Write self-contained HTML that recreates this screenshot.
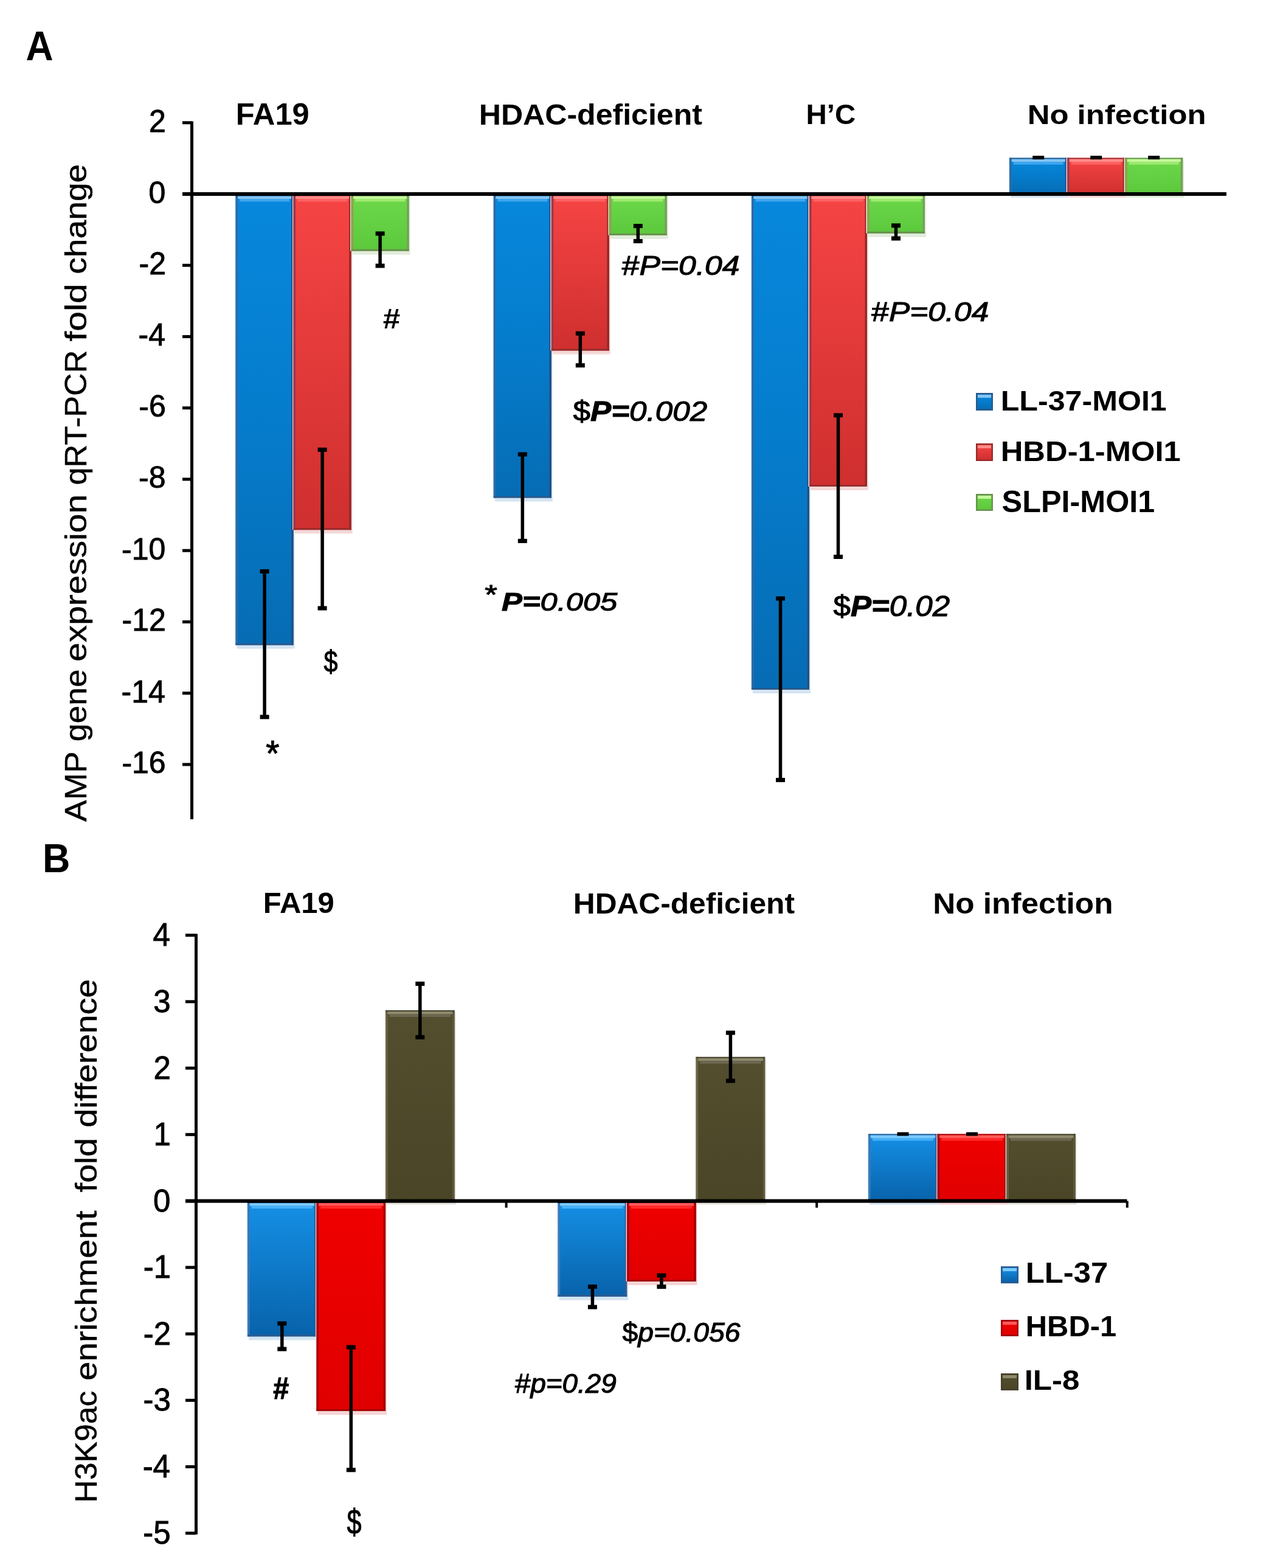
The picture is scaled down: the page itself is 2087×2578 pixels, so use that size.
<!DOCTYPE html>
<html><head><meta charset="utf-8"><title>Figure</title>
<style>html,body{margin:0;padding:0;background:#fff;width:2087px;height:2578px;overflow:hidden}svg{display:block}</style>
</head><body>
<svg width="2087" height="2578" viewBox="0 0 2087 2578" font-family="'Liberation Sans', Arial, sans-serif" fill="#000"><defs><linearGradient id="gAblue" x1="0" y1="0" x2="0" y2="1"><stop offset="0" stop-color="#0788dc"/><stop offset="0.5" stop-color="#057ccc"/><stop offset="1" stop-color="#066cb4"/></linearGradient><linearGradient id="gAred" x1="0" y1="0" x2="0" y2="1"><stop offset="0" stop-color="#f64444"/><stop offset="1" stop-color="#cf2f2f"/></linearGradient><linearGradient id="gAgreen" x1="0" y1="0" x2="0" y2="1"><stop offset="0" stop-color="#6cd84a"/><stop offset="1" stop-color="#5cc83c"/></linearGradient><linearGradient id="gBblue" x1="0" y1="0" x2="0" y2="1"><stop offset="0" stop-color="#1590e6"/><stop offset="1" stop-color="#0862aa"/></linearGradient><linearGradient id="gBred" x1="0" y1="0" x2="0" y2="1"><stop offset="0" stop-color="#f00000"/><stop offset="1" stop-color="#e00000"/></linearGradient><linearGradient id="gBolive" x1="0" y1="0" x2="0" y2="1"><stop offset="0" stop-color="#534e2e"/><stop offset="1" stop-color="#4a4526"/></linearGradient></defs><rect width="2087" height="2578" fill="#fff"/><g id="chartA"><rect x="389.60" y="322.00" width="95.00" height="744.60" fill="#d4e4f2"/><rect x="386.10" y="319.00" width="1.50" height="741.60" fill="#d6eaf8"/><rect x="387.60" y="319.00" width="95.00" height="741.60" fill="url(#gAblue)"/><rect x="387.60" y="319.00" width="3.50" height="741.60" fill="#2f6aa6"/><rect x="479.10" y="319.00" width="3.50" height="741.60" fill="#244f86"/><rect x="387.60" y="1057.60" width="95.00" height="3.00" fill="#2a5a8c"/><rect x="387.60" y="319.00" width="95.00" height="3.50" fill="#04284e"/><rect x="391.10" y="322.50" width="88.00" height="4.50" fill="#84c4f2"/><rect x="394.10" y="327.00" width="82.00" height="4.50" fill="#3ea6ee"/><rect x="484.60" y="322.00" width="95.00" height="555.20" fill="#f4d8d8"/><rect x="481.10" y="319.00" width="1.50" height="552.20" fill="#fbe0e0"/><rect x="482.60" y="319.00" width="95.00" height="552.20" fill="url(#gAred)"/><rect x="482.60" y="319.00" width="3.50" height="552.20" fill="#a03848"/><rect x="574.10" y="319.00" width="3.50" height="552.20" fill="#962828"/><rect x="482.60" y="868.20" width="95.00" height="3.00" fill="#9a2c2c"/><rect x="482.60" y="319.00" width="95.00" height="3.50" fill="#5a1010"/><rect x="486.10" y="322.50" width="88.00" height="4.50" fill="#ff8a8a"/><rect x="489.10" y="327.00" width="82.00" height="4.50" fill="#ff6262"/><rect x="579.60" y="322.00" width="95.00" height="96.70" fill="#e2ecdc"/><rect x="576.10" y="319.00" width="1.50" height="93.70" fill="#eef8e8"/><rect x="577.60" y="319.00" width="95.00" height="93.70" fill="url(#gAgreen)"/><rect x="577.60" y="319.00" width="3.50" height="93.70" fill="#90a050"/><rect x="669.10" y="319.00" width="3.50" height="93.70" fill="#78a05c"/><rect x="577.60" y="409.70" width="95.00" height="3.00" fill="#6a9050"/><rect x="577.60" y="319.00" width="95.00" height="3.50" fill="#1c4010"/><rect x="581.10" y="322.50" width="88.00" height="4.50" fill="#c4f89a"/><rect x="584.10" y="327.00" width="82.00" height="4.50" fill="#9eea70"/><rect x="813.80" y="322.00" width="95.00" height="502.50" fill="#d4e4f2"/><rect x="810.30" y="319.00" width="1.50" height="499.50" fill="#d6eaf8"/><rect x="811.80" y="319.00" width="95.00" height="499.50" fill="url(#gAblue)"/><rect x="811.80" y="319.00" width="3.50" height="499.50" fill="#2f6aa6"/><rect x="903.30" y="319.00" width="3.50" height="499.50" fill="#244f86"/><rect x="811.80" y="815.50" width="95.00" height="3.00" fill="#2a5a8c"/><rect x="811.80" y="319.00" width="95.00" height="3.50" fill="#04284e"/><rect x="815.30" y="322.50" width="88.00" height="4.50" fill="#84c4f2"/><rect x="818.30" y="327.00" width="82.00" height="4.50" fill="#3ea6ee"/><rect x="908.80" y="322.00" width="95.00" height="260.50" fill="#f4d8d8"/><rect x="905.30" y="319.00" width="1.50" height="257.50" fill="#fbe0e0"/><rect x="906.80" y="319.00" width="95.00" height="257.50" fill="url(#gAred)"/><rect x="906.80" y="319.00" width="3.50" height="257.50" fill="#a03848"/><rect x="998.30" y="319.00" width="3.50" height="257.50" fill="#962828"/><rect x="906.80" y="573.50" width="95.00" height="3.00" fill="#9a2c2c"/><rect x="906.80" y="319.00" width="95.00" height="3.50" fill="#5a1010"/><rect x="910.30" y="322.50" width="88.00" height="4.50" fill="#ff8a8a"/><rect x="913.30" y="327.00" width="82.00" height="4.50" fill="#ff6262"/><rect x="1003.80" y="322.00" width="95.00" height="70.80" fill="#e2ecdc"/><rect x="1000.30" y="319.00" width="1.50" height="67.80" fill="#eef8e8"/><rect x="1001.80" y="319.00" width="95.00" height="67.80" fill="url(#gAgreen)"/><rect x="1001.80" y="319.00" width="3.50" height="67.80" fill="#90a050"/><rect x="1093.30" y="319.00" width="3.50" height="67.80" fill="#78a05c"/><rect x="1001.80" y="383.80" width="95.00" height="3.00" fill="#6a9050"/><rect x="1001.80" y="319.00" width="95.00" height="3.50" fill="#1c4010"/><rect x="1005.30" y="322.50" width="88.00" height="4.50" fill="#c4f89a"/><rect x="1008.30" y="327.00" width="82.00" height="4.50" fill="#9eea70"/><rect x="1238.00" y="322.00" width="95.00" height="818.00" fill="#d4e4f2"/><rect x="1234.50" y="319.00" width="1.50" height="815.00" fill="#d6eaf8"/><rect x="1236.00" y="319.00" width="95.00" height="815.00" fill="url(#gAblue)"/><rect x="1236.00" y="319.00" width="3.50" height="815.00" fill="#2f6aa6"/><rect x="1327.50" y="319.00" width="3.50" height="815.00" fill="#244f86"/><rect x="1236.00" y="1131.00" width="95.00" height="3.00" fill="#2a5a8c"/><rect x="1236.00" y="319.00" width="95.00" height="3.50" fill="#04284e"/><rect x="1239.50" y="322.50" width="88.00" height="4.50" fill="#84c4f2"/><rect x="1242.50" y="327.00" width="82.00" height="4.50" fill="#3ea6ee"/><rect x="1333.00" y="322.00" width="95.00" height="484.00" fill="#f4d8d8"/><rect x="1329.50" y="319.00" width="1.50" height="481.00" fill="#fbe0e0"/><rect x="1331.00" y="319.00" width="95.00" height="481.00" fill="url(#gAred)"/><rect x="1331.00" y="319.00" width="3.50" height="481.00" fill="#a03848"/><rect x="1422.50" y="319.00" width="3.50" height="481.00" fill="#962828"/><rect x="1331.00" y="797.00" width="95.00" height="3.00" fill="#9a2c2c"/><rect x="1331.00" y="319.00" width="95.00" height="3.50" fill="#5a1010"/><rect x="1334.50" y="322.50" width="88.00" height="4.50" fill="#ff8a8a"/><rect x="1337.50" y="327.00" width="82.00" height="4.50" fill="#ff6262"/><rect x="1428.00" y="322.00" width="95.00" height="67.70" fill="#e2ecdc"/><rect x="1424.50" y="319.00" width="1.50" height="64.70" fill="#eef8e8"/><rect x="1426.00" y="319.00" width="95.00" height="64.70" fill="url(#gAgreen)"/><rect x="1426.00" y="319.00" width="3.50" height="64.70" fill="#90a050"/><rect x="1517.50" y="319.00" width="3.50" height="64.70" fill="#78a05c"/><rect x="1426.00" y="380.70" width="95.00" height="3.00" fill="#6a9050"/><rect x="1426.00" y="319.00" width="95.00" height="3.50" fill="#1c4010"/><rect x="1429.50" y="322.50" width="88.00" height="4.50" fill="#c4f89a"/><rect x="1432.50" y="327.00" width="82.00" height="4.50" fill="#9eea70"/><rect x="1662.20" y="262.60" width="95.00" height="62.40" fill="#d4e4f2"/><rect x="1658.70" y="259.60" width="1.50" height="59.40" fill="#d6eaf8"/><rect x="1660.20" y="259.60" width="95.00" height="59.40" fill="url(#gAblue)"/><rect x="1660.20" y="259.60" width="3.50" height="59.40" fill="#2f6aa6"/><rect x="1751.70" y="259.60" width="3.50" height="59.40" fill="#244f86"/><rect x="1660.20" y="316.00" width="95.00" height="3.00" fill="#2a5a8c"/><rect x="1660.20" y="259.60" width="95.00" height="2.00" fill="#2a5a8c"/><rect x="1663.70" y="261.60" width="88.00" height="4.50" fill="#84c4f2"/><rect x="1666.70" y="266.10" width="82.00" height="4.50" fill="#3ea6ee"/><rect x="1757.20" y="262.60" width="95.00" height="62.40" fill="#f4d8d8"/><rect x="1753.70" y="259.60" width="1.50" height="59.40" fill="#fbe0e0"/><rect x="1755.20" y="259.60" width="95.00" height="59.40" fill="url(#gAred)"/><rect x="1755.20" y="259.60" width="3.50" height="59.40" fill="#a03848"/><rect x="1846.70" y="259.60" width="3.50" height="59.40" fill="#962828"/><rect x="1755.20" y="316.00" width="95.00" height="3.00" fill="#9a2c2c"/><rect x="1755.20" y="259.60" width="95.00" height="2.00" fill="#9a2c2c"/><rect x="1758.70" y="261.60" width="88.00" height="4.50" fill="#ff8a8a"/><rect x="1761.70" y="266.10" width="82.00" height="4.50" fill="#ff6262"/><rect x="1852.20" y="262.60" width="95.00" height="62.40" fill="#e2ecdc"/><rect x="1848.70" y="259.60" width="1.50" height="59.40" fill="#eef8e8"/><rect x="1850.20" y="259.60" width="95.00" height="59.40" fill="url(#gAgreen)"/><rect x="1850.20" y="259.60" width="3.50" height="59.40" fill="#90a050"/><rect x="1941.70" y="259.60" width="3.50" height="59.40" fill="#78a05c"/><rect x="1850.20" y="316.00" width="95.00" height="3.00" fill="#6a9050"/><rect x="1850.20" y="259.60" width="95.00" height="2.00" fill="#6a9050"/><rect x="1853.70" y="261.60" width="88.00" height="4.50" fill="#c4f89a"/><rect x="1856.70" y="266.10" width="82.00" height="4.50" fill="#9eea70"/><rect x="313.00" y="199.50" width="5.00" height="1147.50" fill="#000"/><rect x="300.00" y="199.26" width="15.50" height="5.00" fill="#000"/><rect x="300.00" y="316.50" width="15.50" height="5.00" fill="#000"/><rect x="300.00" y="433.74" width="15.50" height="5.00" fill="#000"/><rect x="300.00" y="550.98" width="15.50" height="5.00" fill="#000"/><rect x="300.00" y="668.22" width="15.50" height="5.00" fill="#000"/><rect x="300.00" y="785.46" width="15.50" height="5.00" fill="#000"/><rect x="300.00" y="902.70" width="15.50" height="5.00" fill="#000"/><rect x="300.00" y="1019.94" width="15.50" height="5.00" fill="#000"/><rect x="300.00" y="1137.18" width="15.50" height="5.00" fill="#000"/><rect x="300.00" y="1254.42" width="15.50" height="5.00" fill="#000"/><rect x="300.00" y="316.00" width="1717.00" height="6.00" fill="#000"/><rect x="432.35" y="939.40" width="5.50" height="239.40" fill="#000"/><rect x="427.60" y="935.90" width="15.00" height="7.00" fill="#000"/><rect x="427.60" y="1175.30" width="15.00" height="7.00" fill="#000"/><rect x="527.35" y="739.40" width="5.50" height="260.60" fill="#000"/><rect x="522.60" y="735.90" width="15.00" height="7.00" fill="#000"/><rect x="522.60" y="996.50" width="15.00" height="7.00" fill="#000"/><rect x="622.35" y="384.00" width="5.50" height="53.00" fill="#000"/><rect x="617.60" y="380.50" width="15.00" height="7.00" fill="#000"/><rect x="617.60" y="433.50" width="15.00" height="7.00" fill="#000"/><rect x="856.55" y="747.00" width="5.50" height="142.40" fill="#000"/><rect x="851.80" y="743.50" width="15.00" height="7.00" fill="#000"/><rect x="851.80" y="885.90" width="15.00" height="7.00" fill="#000"/><rect x="951.55" y="548.20" width="5.50" height="52.50" fill="#000"/><rect x="946.80" y="544.70" width="15.00" height="7.00" fill="#000"/><rect x="946.80" y="597.20" width="15.00" height="7.00" fill="#000"/><rect x="1046.55" y="371.60" width="5.50" height="24.90" fill="#000"/><rect x="1041.80" y="368.10" width="15.00" height="7.00" fill="#000"/><rect x="1041.80" y="393.00" width="15.00" height="7.00" fill="#000"/><rect x="1280.75" y="984.00" width="5.50" height="298.40" fill="#000"/><rect x="1276.00" y="980.50" width="15.00" height="7.00" fill="#000"/><rect x="1276.00" y="1278.90" width="15.00" height="7.00" fill="#000"/><rect x="1375.75" y="682.80" width="5.50" height="232.70" fill="#000"/><rect x="1371.00" y="679.30" width="15.00" height="7.00" fill="#000"/><rect x="1371.00" y="912.00" width="15.00" height="7.00" fill="#000"/><rect x="1470.75" y="370.80" width="5.50" height="21.20" fill="#000"/><rect x="1466.00" y="367.30" width="15.00" height="7.00" fill="#000"/><rect x="1466.00" y="388.50" width="15.00" height="7.00" fill="#000"/><rect x="1698.20" y="256.10" width="19.00" height="6.00" fill="#000"/><rect x="1793.20" y="256.10" width="19.00" height="6.00" fill="#000"/><rect x="1888.20" y="256.10" width="19.00" height="6.00" fill="#000"/></g><rect x="409.05" y="1977.60" width="113.50" height="225.70" fill="#d4e4f2"/><rect x="405.55" y="1974.60" width="1.50" height="222.70" fill="#d6eaf8"/><rect x="407.05" y="1974.60" width="113.50" height="222.70" fill="url(#gBblue)"/><rect x="407.05" y="1974.60" width="3.50" height="222.70" fill="#3a78b8"/><rect x="517.05" y="1974.60" width="3.50" height="222.70" fill="#345c94"/><rect x="407.05" y="2194.30" width="113.50" height="3.00" fill="#2a5a90"/><rect x="407.05" y="1974.60" width="113.50" height="3.50" fill="#04284e"/><rect x="410.55" y="1978.10" width="106.50" height="4.50" fill="#7ccaff"/><rect x="413.55" y="1982.60" width="100.50" height="4.50" fill="#48b0f8"/><rect x="522.55" y="1977.60" width="113.50" height="348.40" fill="#f6d4d4"/><rect x="519.05" y="1974.60" width="1.50" height="345.40" fill="#fbe0e0"/><rect x="520.55" y="1974.60" width="113.50" height="345.40" fill="url(#gBred)"/><rect x="520.55" y="1974.60" width="3.50" height="345.40" fill="#a80010"/><rect x="630.55" y="1974.60" width="3.50" height="345.40" fill="#a00000"/><rect x="520.55" y="2317.00" width="113.50" height="3.00" fill="#a00808"/><rect x="520.55" y="1974.60" width="113.50" height="3.50" fill="#500000"/><rect x="524.05" y="1978.10" width="106.50" height="4.50" fill="#ff5a5a"/><rect x="527.05" y="1982.60" width="100.50" height="4.50" fill="#ff2a2a"/><rect x="636.05" y="1664.00" width="113.50" height="316.60" fill="#e6e4dc"/><rect x="632.55" y="1661.00" width="1.50" height="313.60" fill="#f0efe8"/><rect x="634.05" y="1661.00" width="113.50" height="313.60" fill="url(#gBolive)"/><rect x="634.05" y="1661.00" width="3.50" height="313.60" fill="#6a6446"/><rect x="744.05" y="1661.00" width="3.50" height="313.60" fill="#5e5a40"/><rect x="634.05" y="1971.60" width="113.50" height="3.00" fill="#45402a"/><rect x="634.05" y="1661.00" width="113.50" height="2.00" fill="#45402a"/><rect x="637.55" y="1663.00" width="106.50" height="4.50" fill="#8e8a6e"/><rect x="640.55" y="1667.50" width="100.50" height="4.50" fill="#6c6750"/><rect x="919.65" y="1977.60" width="113.50" height="160.10" fill="#d4e4f2"/><rect x="916.15" y="1974.60" width="1.50" height="157.10" fill="#d6eaf8"/><rect x="917.65" y="1974.60" width="113.50" height="157.10" fill="url(#gBblue)"/><rect x="917.65" y="1974.60" width="3.50" height="157.10" fill="#3a78b8"/><rect x="1027.65" y="1974.60" width="3.50" height="157.10" fill="#345c94"/><rect x="917.65" y="2128.70" width="113.50" height="3.00" fill="#2a5a90"/><rect x="917.65" y="1974.60" width="113.50" height="3.50" fill="#04284e"/><rect x="921.15" y="1978.10" width="106.50" height="4.50" fill="#7ccaff"/><rect x="924.15" y="1982.60" width="100.50" height="4.50" fill="#48b0f8"/><rect x="1033.15" y="1977.60" width="113.50" height="135.30" fill="#f6d4d4"/><rect x="1029.65" y="1974.60" width="1.50" height="132.30" fill="#fbe0e0"/><rect x="1031.15" y="1974.60" width="113.50" height="132.30" fill="url(#gBred)"/><rect x="1031.15" y="1974.60" width="3.50" height="132.30" fill="#a80010"/><rect x="1141.15" y="1974.60" width="3.50" height="132.30" fill="#a00000"/><rect x="1031.15" y="2103.90" width="113.50" height="3.00" fill="#a00808"/><rect x="1031.15" y="1974.60" width="113.50" height="3.50" fill="#500000"/><rect x="1034.65" y="1978.10" width="106.50" height="4.50" fill="#ff5a5a"/><rect x="1037.65" y="1982.60" width="100.50" height="4.50" fill="#ff2a2a"/><rect x="1146.65" y="1740.80" width="113.50" height="239.80" fill="#e6e4dc"/><rect x="1143.15" y="1737.80" width="1.50" height="236.80" fill="#f0efe8"/><rect x="1144.65" y="1737.80" width="113.50" height="236.80" fill="url(#gBolive)"/><rect x="1144.65" y="1737.80" width="3.50" height="236.80" fill="#6a6446"/><rect x="1254.65" y="1737.80" width="3.50" height="236.80" fill="#5e5a40"/><rect x="1144.65" y="1971.60" width="113.50" height="3.00" fill="#45402a"/><rect x="1144.65" y="1737.80" width="113.50" height="2.00" fill="#45402a"/><rect x="1148.15" y="1739.80" width="106.50" height="4.50" fill="#8e8a6e"/><rect x="1151.15" y="1744.30" width="100.50" height="4.50" fill="#6c6750"/><rect x="1430.25" y="1867.50" width="113.50" height="113.10" fill="#d4e4f2"/><rect x="1426.75" y="1864.50" width="1.50" height="110.10" fill="#d6eaf8"/><rect x="1428.25" y="1864.50" width="113.50" height="110.10" fill="url(#gBblue)"/><rect x="1428.25" y="1864.50" width="3.50" height="110.10" fill="#3a78b8"/><rect x="1538.25" y="1864.50" width="3.50" height="110.10" fill="#345c94"/><rect x="1428.25" y="1971.60" width="113.50" height="3.00" fill="#2a5a90"/><rect x="1428.25" y="1864.50" width="113.50" height="2.00" fill="#2a5a90"/><rect x="1431.75" y="1866.50" width="106.50" height="4.50" fill="#7ccaff"/><rect x="1434.75" y="1871.00" width="100.50" height="4.50" fill="#48b0f8"/><rect x="1543.75" y="1867.50" width="113.50" height="113.10" fill="#f6d4d4"/><rect x="1540.25" y="1864.50" width="1.50" height="110.10" fill="#fbe0e0"/><rect x="1541.75" y="1864.50" width="113.50" height="110.10" fill="url(#gBred)"/><rect x="1541.75" y="1864.50" width="3.50" height="110.10" fill="#a80010"/><rect x="1651.75" y="1864.50" width="3.50" height="110.10" fill="#a00000"/><rect x="1541.75" y="1971.60" width="113.50" height="3.00" fill="#a00808"/><rect x="1541.75" y="1864.50" width="113.50" height="2.00" fill="#a00808"/><rect x="1545.25" y="1866.50" width="106.50" height="4.50" fill="#ff5a5a"/><rect x="1548.25" y="1871.00" width="100.50" height="4.50" fill="#ff2a2a"/><rect x="1657.25" y="1867.50" width="113.50" height="113.10" fill="#e6e4dc"/><rect x="1653.75" y="1864.50" width="1.50" height="110.10" fill="#f0efe8"/><rect x="1655.25" y="1864.50" width="113.50" height="110.10" fill="url(#gBolive)"/><rect x="1655.25" y="1864.50" width="3.50" height="110.10" fill="#6a6446"/><rect x="1765.25" y="1864.50" width="3.50" height="110.10" fill="#5e5a40"/><rect x="1655.25" y="1971.60" width="113.50" height="3.00" fill="#45402a"/><rect x="1655.25" y="1864.50" width="113.50" height="2.00" fill="#45402a"/><rect x="1658.75" y="1866.50" width="106.50" height="4.50" fill="#8e8a6e"/><rect x="1661.75" y="1871.00" width="100.50" height="4.50" fill="#6c6750"/><rect x="320.00" y="1535.50" width="5.00" height="987.20" fill="#000"/><rect x="305.00" y="1535.14" width="17.50" height="5.00" fill="#000"/><rect x="305.00" y="1644.38" width="17.50" height="5.00" fill="#000"/><rect x="305.00" y="1753.62" width="17.50" height="5.00" fill="#000"/><rect x="305.00" y="1862.86" width="17.50" height="5.00" fill="#000"/><rect x="305.00" y="1972.10" width="17.50" height="5.00" fill="#000"/><rect x="305.00" y="2081.34" width="17.50" height="5.00" fill="#000"/><rect x="305.00" y="2190.58" width="17.50" height="5.00" fill="#000"/><rect x="305.00" y="2299.82" width="17.50" height="5.00" fill="#000"/><rect x="305.00" y="2409.06" width="17.50" height="5.00" fill="#000"/><rect x="305.00" y="2518.30" width="17.50" height="5.00" fill="#000"/><rect x="305.00" y="1971.60" width="1548.50" height="6.00" fill="#000"/><rect x="830.60" y="1974.60" width="4.00" height="11.00" fill="#000"/><rect x="1341.20" y="1974.60" width="4.00" height="11.00" fill="#000"/><rect x="1851.80" y="1974.60" width="4.00" height="11.00" fill="#000"/><rect x="461.05" y="2176.00" width="5.50" height="42.00" fill="#000"/><rect x="456.30" y="2172.50" width="15.00" height="7.00" fill="#000"/><rect x="456.30" y="2214.50" width="15.00" height="7.00" fill="#000"/><rect x="574.55" y="2215.00" width="5.50" height="201.80" fill="#000"/><rect x="569.80" y="2211.50" width="15.00" height="7.00" fill="#000"/><rect x="569.80" y="2413.30" width="15.00" height="7.00" fill="#000"/><rect x="688.05" y="1617.40" width="5.50" height="87.90" fill="#000"/><rect x="683.30" y="1613.90" width="15.00" height="7.00" fill="#000"/><rect x="683.30" y="1701.80" width="15.00" height="7.00" fill="#000"/><rect x="971.65" y="2115.50" width="5.50" height="33.50" fill="#000"/><rect x="966.90" y="2112.00" width="15.00" height="7.00" fill="#000"/><rect x="966.90" y="2145.50" width="15.00" height="7.00" fill="#000"/><rect x="1085.15" y="2097.00" width="5.50" height="18.50" fill="#000"/><rect x="1080.40" y="2093.50" width="15.00" height="7.00" fill="#000"/><rect x="1080.40" y="2112.00" width="15.00" height="7.00" fill="#000"/><rect x="1198.65" y="1698.00" width="5.50" height="79.00" fill="#000"/><rect x="1193.90" y="1694.50" width="15.00" height="7.00" fill="#000"/><rect x="1193.90" y="1773.50" width="15.00" height="7.00" fill="#000"/><rect x="1475.50" y="1861.50" width="19.00" height="6.00" fill="#000"/><rect x="1589.00" y="1861.50" width="19.00" height="6.00" fill="#000"/><rect x="1605.00" y="646.00" width="28.00" height="29.00" fill="#2a5a8c"/><rect x="1607.50" y="648.50" width="23.00" height="24.00" fill="url(#gAblue)"/><rect x="1608.00" y="649.00" width="22.00" height="5.00" fill="#84c4f2"/><rect x="1605.00" y="729.00" width="28.00" height="29.00" fill="#9a2c2c"/><rect x="1607.50" y="731.50" width="23.00" height="24.00" fill="url(#gAred)"/><rect x="1608.00" y="732.00" width="22.00" height="5.00" fill="#ff8a8a"/><rect x="1605.00" y="812.00" width="28.00" height="28.00" fill="#6a9050"/><rect x="1607.50" y="814.50" width="23.00" height="23.00" fill="url(#gAgreen)"/><rect x="1608.00" y="815.00" width="22.00" height="5.00" fill="#c4f89a"/><rect x="1646.00" y="2082.00" width="29.00" height="28.00" fill="#2a5a90"/><rect x="1648.50" y="2084.50" width="24.00" height="23.00" fill="url(#gBblue)"/><rect x="1649.00" y="2085.00" width="23.00" height="5.00" fill="#7ccaff"/><rect x="1646.00" y="2170.00" width="29.00" height="27.00" fill="#a00808"/><rect x="1648.50" y="2172.50" width="24.00" height="22.00" fill="url(#gBred)"/><rect x="1649.00" y="2173.00" width="23.00" height="5.00" fill="#ff5a5a"/><rect x="1646.00" y="2258.00" width="29.00" height="28.00" fill="#45402a"/><rect x="1648.50" y="2260.50" width="24.00" height="23.00" fill="url(#gBolive)"/><rect x="1649.00" y="2261.00" width="23.00" height="5.00" fill="#8e8a6e"/><text transform="translate(42.44 98.50) scale(0.9039 1)" font-size="69.09"><tspan font-weight="bold" font-style="normal">A</tspan></text><text transform="translate(69.91 1433.50) scale(0.9498 1)" font-size="66.18"><tspan font-weight="bold" font-style="normal">B</tspan></text><text transform="translate(387.71 204.51) scale(1.0240 1)" font-size="49.47"><tspan font-weight="bold" font-style="normal">FA19</tspan></text><text transform="translate(787.74 204.52) scale(1.0518 1)" font-size="47.62"><tspan font-weight="bold" font-style="normal">HDAC-deficient</tspan></text><text transform="translate(1325.41 203.53) scale(1.0194 1)" font-size="46.64"><tspan font-weight="bold" font-style="normal">H’C</tspan></text><text transform="translate(1689.69 203.55) scale(1.1328 1)" font-size="44.90"><tspan font-weight="bold" font-style="normal">No infection</tspan></text><text transform="translate(141.50 1351.00) rotate(-90) scale(1.0580 1)" font-size="50.50" font-weight="normal" stroke="#000" stroke-width="0.4">AMP</text><text transform="translate(141.50 1219.14) rotate(-90) scale(1.0595 1)" font-size="50.50" font-weight="normal" stroke="#000" stroke-width="0.4">gene</text><text transform="translate(141.50 1087.92) rotate(-90) scale(1.1262 1)" font-size="50.50" font-weight="normal" stroke="#000" stroke-width="0.4">expression</text><text transform="translate(141.50 797.58) rotate(-90) scale(1.0316 1)" font-size="50.50" font-weight="normal" stroke="#000" stroke-width="0.4">qRT-PCR</text><text transform="translate(141.50 561.24) rotate(-90) scale(1.1675 1)" font-size="50.50" font-weight="normal" stroke="#000" stroke-width="0.4">fold</text><text transform="translate(141.50 450.85) rotate(-90) scale(1.0939 1)" font-size="50.50" font-weight="normal" stroke="#000" stroke-width="0.4">change</text><text transform="translate(245.12 216.76) scale(0.9824 1)" font-size="50.90" stroke="#000" stroke-width="0.9"><tspan font-weight="normal" font-style="normal">2</tspan></text><text transform="translate(244.62 333.50) scale(0.9965 1)" font-size="50.18" stroke="#000" stroke-width="0.9"><tspan font-weight="normal" font-style="normal">0</tspan></text><text transform="translate(228.50 451.24) scale(0.9824 1)" font-size="50.90" stroke="#000" stroke-width="0.9"><tspan font-weight="normal" font-style="normal">-2</tspan></text><text transform="translate(227.50 568.48) scale(0.9683 1)" font-size="51.64" stroke="#000" stroke-width="0.9"><tspan font-weight="normal" font-style="normal">-4</tspan></text><text transform="translate(228.25 685.22) scale(0.9965 1)" font-size="50.18" stroke="#000" stroke-width="0.9"><tspan font-weight="normal" font-style="normal">-6</tspan></text><text transform="translate(228.12 802.46) scale(0.9965 1)" font-size="50.18" stroke="#000" stroke-width="0.9"><tspan font-weight="normal" font-style="normal">-8</tspan></text><text transform="translate(200.12 919.70) scale(0.9965 1)" font-size="50.18" stroke="#000" stroke-width="0.9"><tspan font-weight="normal" font-style="normal">-10</tspan></text><text transform="translate(200.62 1037.44) scale(0.9824 1)" font-size="50.90" stroke="#000" stroke-width="0.9"><tspan font-weight="normal" font-style="normal">-12</tspan></text><text transform="translate(199.62 1154.68) scale(0.9683 1)" font-size="51.64" stroke="#000" stroke-width="0.9"><tspan font-weight="normal" font-style="normal">-14</tspan></text><text transform="translate(200.38 1271.42) scale(0.9965 1)" font-size="50.18" stroke="#000" stroke-width="0.9"><tspan font-weight="normal" font-style="normal">-16</tspan></text><text transform="translate(629.73 540.00) scale(1.1049 1)" font-size="46.32"><tspan font-weight="bold" font-style="normal">#</tspan></text><text transform="translate(532.59 1104.55) scale(0.8392 1)" font-size="49.23" stroke="#000" stroke-width="1.1"><tspan font-weight="normal" font-style="normal">$</tspan></text><text transform="translate(437.15 1259.27) scale(0.9722 1)" font-size="58.57" stroke="#000" stroke-width="1.1"><tspan font-weight="normal" font-style="normal">*</tspan></text><text transform="translate(1022.87 451.55) scale(1.1397 1)" font-size="45.23" stroke="#000" stroke-width="1.1"><tspan font-weight="normal" font-style="normal">#</tspan><tspan font-weight="normal" font-style="italic">P=0.04</tspan></text><text transform="translate(942.49 691.73) scale(1.0953 1)" font-size="46.77" stroke="#000" stroke-width="1.1"><tspan font-weight="normal" font-style="normal">$</tspan><tspan font-weight="bold" font-style="italic">P=</tspan><tspan font-weight="normal" font-style="italic">0.002</tspan></text><text transform="translate(797.21 993.45) scale(1.1918 1)" font-size="44.29" stroke="#000" stroke-width="1.1"><tspan font-weight="normal" font-style="normal">*</tspan></text><text transform="translate(825.11 1003.57) scale(1.1753 1)" font-size="43.11" stroke="#000" stroke-width="1.1"><tspan font-weight="bold" font-style="italic">P=</tspan><tspan font-weight="normal" font-style="italic">0.005</tspan></text><text transform="translate(1433.37 528.05) scale(1.1367 1)" font-size="45.23" stroke="#000" stroke-width="1.1"><tspan font-weight="normal" font-style="normal">#</tspan><tspan font-weight="normal" font-style="italic">P=0.04</tspan></text><text transform="translate(1370.49 1012.68) scale(1.0778 1)" font-size="47.38" stroke="#000" stroke-width="1.1"><tspan font-weight="normal" font-style="normal">$</tspan><tspan font-weight="bold" font-style="italic">P=</tspan><tspan font-weight="normal" font-style="italic">0.02</tspan></text><text transform="translate(1645.74 674.93) scale(1.0954 1)" font-size="45.77"><tspan font-weight="bold" font-style="normal">LL-37-MOI1</tspan></text><text transform="translate(1645.70 758.04) scale(1.1050 1)" font-size="45.94"><tspan font-weight="bold" font-style="normal">HBD-1-MOI1</tspan></text><text transform="translate(1647.62 842.00) scale(1.0030 1)" font-size="50.18"><tspan font-weight="bold" font-style="normal">SLPI-MOI1</tspan></text><text transform="translate(432.82 1501.01) scale(1.0030 1)" font-size="48.76"><tspan font-weight="bold" font-style="normal">FA19</tspan></text><text transform="translate(942.77 1502.02) scale(1.0284 1)" font-size="48.30"><tspan font-weight="bold" font-style="normal">HDAC-deficient</tspan></text><text transform="translate(1534.17 1501.52) scale(1.0774 1)" font-size="47.62"><tspan font-weight="bold" font-style="normal">No infection</tspan></text><text transform="translate(158.80 2470.64) rotate(-90) scale(1.0238 1)" font-size="50.50" font-weight="normal" stroke="#000" stroke-width="0.4">H3K9ac</text><text transform="translate(158.80 2269.90) rotate(-90) scale(1.1194 1)" font-size="50.50" font-weight="normal" stroke="#000" stroke-width="0.4">enrichment</text><text transform="translate(158.80 1960.19) rotate(-90) scale(1.0965 1)" font-size="50.50" font-weight="normal" stroke="#000" stroke-width="0.4">fold</text><text transform="translate(158.80 1853.73) rotate(-90) scale(1.1055 1)" font-size="50.50" font-weight="normal" stroke="#000" stroke-width="0.4">difference</text><text transform="translate(251.60 1555.14) scale(0.9476 1)" font-size="53.82" stroke="#000" stroke-width="0.9"><tspan font-weight="normal" font-style="normal">4</tspan></text><text transform="translate(252.36 1663.86) scale(0.9752 1)" font-size="52.30" stroke="#000" stroke-width="0.9"><tspan font-weight="normal" font-style="normal">3</tspan></text><text transform="translate(252.62 1773.62) scale(0.9614 1)" font-size="53.05" stroke="#000" stroke-width="0.9"><tspan font-weight="normal" font-style="normal">2</tspan></text><text transform="translate(252.62 1882.86) scale(0.9476 1)" font-size="53.82" stroke="#000" stroke-width="0.9"><tspan font-weight="normal" font-style="normal">1</tspan></text><text transform="translate(252.11 1991.58) scale(0.9752 1)" font-size="52.30" stroke="#000" stroke-width="0.9"><tspan font-weight="normal" font-style="normal">0</tspan></text><text transform="translate(235.66 2101.34) scale(0.9476 1)" font-size="53.82" stroke="#000" stroke-width="0.9"><tspan font-weight="normal" font-style="normal">-1</tspan></text><text transform="translate(235.66 2210.58) scale(0.9614 1)" font-size="53.05" stroke="#000" stroke-width="0.9"><tspan font-weight="normal" font-style="normal">-2</tspan></text><text transform="translate(235.41 2319.30) scale(0.9752 1)" font-size="52.30" stroke="#000" stroke-width="0.9"><tspan font-weight="normal" font-style="normal">-3</tspan></text><text transform="translate(234.64 2429.06) scale(0.9476 1)" font-size="53.82" stroke="#000" stroke-width="0.9"><tspan font-weight="normal" font-style="normal">-4</tspan></text><text transform="translate(235.28 2537.77) scale(0.9614 1)" font-size="53.05" stroke="#000" stroke-width="0.9"><tspan font-weight="normal" font-style="normal">-5</tspan></text><text transform="translate(449.30 2300.00) scale(0.9289 1)" font-size="50.00" stroke="#000" stroke-width="1.2"><tspan font-weight="bold" font-style="normal">#</tspan></text><text transform="translate(570.57 2522.45) scale(0.7467 1)" font-size="57.85" stroke="#000" stroke-width="1.1"><tspan font-weight="normal" font-style="normal">$</tspan></text><text transform="translate(1023.54 2206.44) scale(1.0572 1)" font-size="43.68" stroke="#000" stroke-width="1.1"><tspan font-weight="normal" font-style="normal">$</tspan><tspan font-weight="normal" font-style="italic">p=0.056</tspan></text><text transform="translate(846.89 2289.60) scale(1.0115 1)" font-size="45.30" stroke="#000" stroke-width="1.1"><tspan font-weight="normal" font-style="normal">#</tspan><tspan font-weight="normal" font-style="italic">p=0.29</tspan></text><text transform="translate(1686.70 2108.89) scale(1.0461 1)" font-size="48.59"><tspan font-weight="bold" font-style="normal">LL-37</tspan></text><text transform="translate(1686.82 2197.00) scale(1.0188 1)" font-size="48.00"><tspan font-weight="bold" font-style="normal">HBD-1</tspan></text><text transform="translate(1684.68 2284.53) scale(1.0942 1)" font-size="46.64"><tspan font-weight="bold" font-style="normal">IL-8</tspan></text></svg>
</body></html>
